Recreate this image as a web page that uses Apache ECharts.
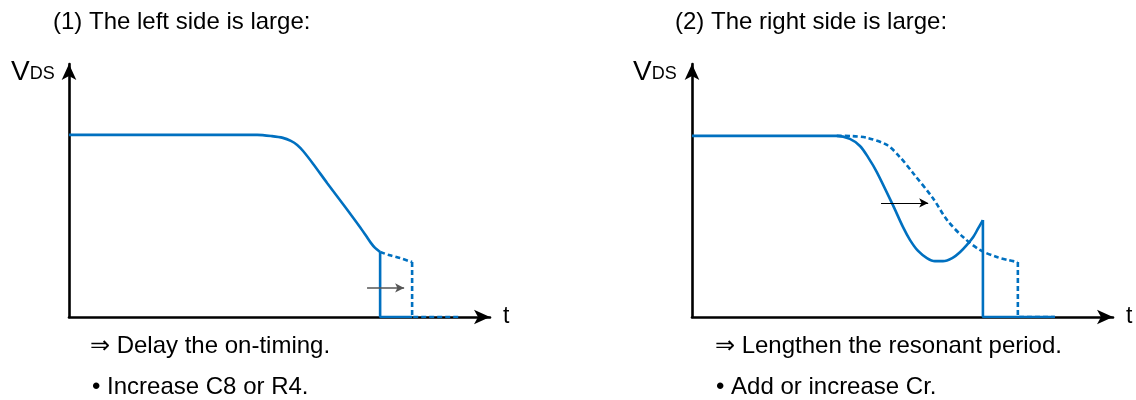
<!DOCTYPE html>
<html>
<head>
<meta charset="utf-8">
<script src="https://cdn.jsdelivr.net/npm/echarts@6/dist/echarts.min.js"></script>
<style>
  html, body { margin: 0; padding: 0; background: #fff; }
  #chart { width: 1136px; height: 400px; }
</style>
</head>
<body>
<div id="chart"></div>
<script>
// time axis 0..100, voltage axis 0..100 (arbitrary units)
const leftCurve = [[0, 72], [44.7, 72], [48.2, 71.5], [50.8, 70.8], [52.7, 69.6], [54.2, 68], [55.6, 65.6],
  [58, 60.5], [61.3, 53], [65.6, 43.5], [69.1, 35.6], [70.6, 32], [71.7, 29.3], [72.7, 27.3], [73.9, 25.7]];
const leftOnEdge = [[73.9, 25.7], [73.9, 0], [81.5, 0]];
const leftDelayed = [[73.9, 25.7], [76.2, 24.4], [78.6, 23.3], [81.5, 21.7]];
const leftDelayedEdge = [[81.5, 21.7], [81.5, 0], [92.9, 0]];

const rightCurve = [[0, 71.6], [34.4, 71.6], [37.5, 70.4], [39.9, 67.6], [41.8, 63.2], [43.9, 57.3], [47.7, 44.3],
  [50.1, 35.6], [51.8, 30.4], [53.7, 26.1], [55.8, 23.3], [57.7, 22.1], [59.6, 22.1], [61.8, 23.3], [63.7, 25.7],
  [65.3, 28.5], [66.8, 31.6], [67.9, 34.8], [69.1, 38.3]];
const rightOnEdge = [[69.1, 38.3], [69.1, 0], [86.2, 0]];
const rightLonger = [[34.4, 71.6], [38, 71.5], [41.6, 70.8], [46.3, 68], [49.4, 63.2], [52.5, 56.9], [57.2, 47],
  [60.6, 38.3], [64.4, 31.6], [68.4, 26.5], [72.4, 23.7], [75.1, 22.5], [77.4, 21.7]];
const rightLongerEdge = [[77.4, 21.7], [77.4, 0], [86.2, 0]];

const leftShift = [[70.8, 11.5], [79.6, 11.5]];
const rightShift = [[44.9, 45.1], [56.1, 45.1]];

const titles = ['(1) The left side is large:', '(2) The right side is large:'];
const notesLeft = ['\u21d2 Delay the on-timing.', '\u2022 Increase C8 or R4.'];
const notesRight = ['\u21d2 Lengthen the resonant period.', '\u2022 Add or increase Cr.'];

const FONT = '"Liberation Sans", Arial, sans-serif';
const BLUE = '#0070C0';

const chart = echarts.init(document.getElementById('chart'));

function axisX(i) {
  return {
    type: 'value', gridIndex: i, min: 0, max: 100,
    name: 't', nameLocation: 'end', nameGap: 13,
    nameTextStyle: { fontSize: 23, color: '#000', fontFamily: FONT },
    axisLine: { show: true, symbol: ['none', 'arrow'], symbolSize: [11, 16], lineStyle: { color: '#000', width: 2.6 } },
    axisTick: { show: false }, axisLabel: { show: false }, splitLine: { show: false }
  };
}
function axisY(i) {
  return {
    type: 'value', gridIndex: i, min: 0, max: 100,
    axisLine: { show: true, symbol: ['none', 'arrow'], symbolSize: [11, 16], lineStyle: { color: '#000', width: 2.6 } },
    axisTick: { show: false }, axisLabel: { show: false }, splitLine: { show: false }
  };
}
function curve(i, data, dashed, smooth) {
  return {
    type: 'line', xAxisIndex: i, yAxisIndex: i, data: data,
    smooth: smooth ? 0.3 : false,
    symbol: 'none', silent: true, animation: false,
    lineStyle: { color: BLUE, width: 2.6, type: dashed ? [5, 3] : 'solid' }
  };
}
function shift(i, pts, color, w) {
  return {
    type: 'line', xAxisIndex: i, yAxisIndex: i, data: [], silent: true, animation: false,
    markLine: {
      silent: true, animation: false, symbol: ['none', 'arrow'], symbolSize: [7, 9],
      label: { show: false },
      lineStyle: { color: color, width: w, type: 'solid' },
      data: [[{ coord: pts[0] }, { coord: pts[1] }]]
    }
  };
}
function text(str, left, top, size) {
  return { text: str, left: left, top: top, padding: 0,
    textStyle: { fontSize: size, fontWeight: 'normal', color: '#000', fontFamily: FONT } };
}
const vds = {
  v: { fontSize: 28, fontWeight: 'normal', fontFamily: FONT, color: '#000', verticalAlign: 'bottom' },
  s: { fontSize: 18, fontWeight: 'normal', fontFamily: FONT, color: '#000', verticalAlign: 'bottom', padding: [0, 0, 3, 0] }
};

chart.setOption({
  animation: false,
  title: [
    text(titles[0], 53, 10, 24),
    text(titles[1], 675, 10, 24),
    { text: '{v|V}{s|DS}', left: 11, top: 58, padding: 0, textStyle: { fontWeight: 'normal', rich: vds } },
    { text: '{v|V}{s|DS}', left: 633, top: 58, padding: 0, textStyle: { fontWeight: 'normal', rich: vds } },
    text(notesLeft[0], 90, 334, 24),
    text(notesLeft[1], 92, 375, 24),
    text(notesRight[0], 715, 334, 24),
    text(notesRight[1], 716, 375, 24)
  ],
  grid: [
    { left: 69, top: 64, width: 421, height: 253 },
    { left: 692, top: 64, width: 421, height: 253 }
  ],
  xAxis: [axisX(0), axisX(1)],
  yAxis: [axisY(0), axisY(1)],
  series: [
    curve(0, leftCurve, false, true),
    curve(0, leftOnEdge, false, false),
    curve(0, leftDelayed, true, true),
    curve(0, leftDelayedEdge, true, false),
    shift(0, leftShift, '#555', 1.5),
    curve(1, rightCurve, false, true),
    curve(1, rightOnEdge, false, false),
    curve(1, rightLonger, true, true),
    curve(1, rightLongerEdge, true, false),
    shift(1, rightShift, '#000', 1.2)
  ]
});
</script>
</body>
</html>
